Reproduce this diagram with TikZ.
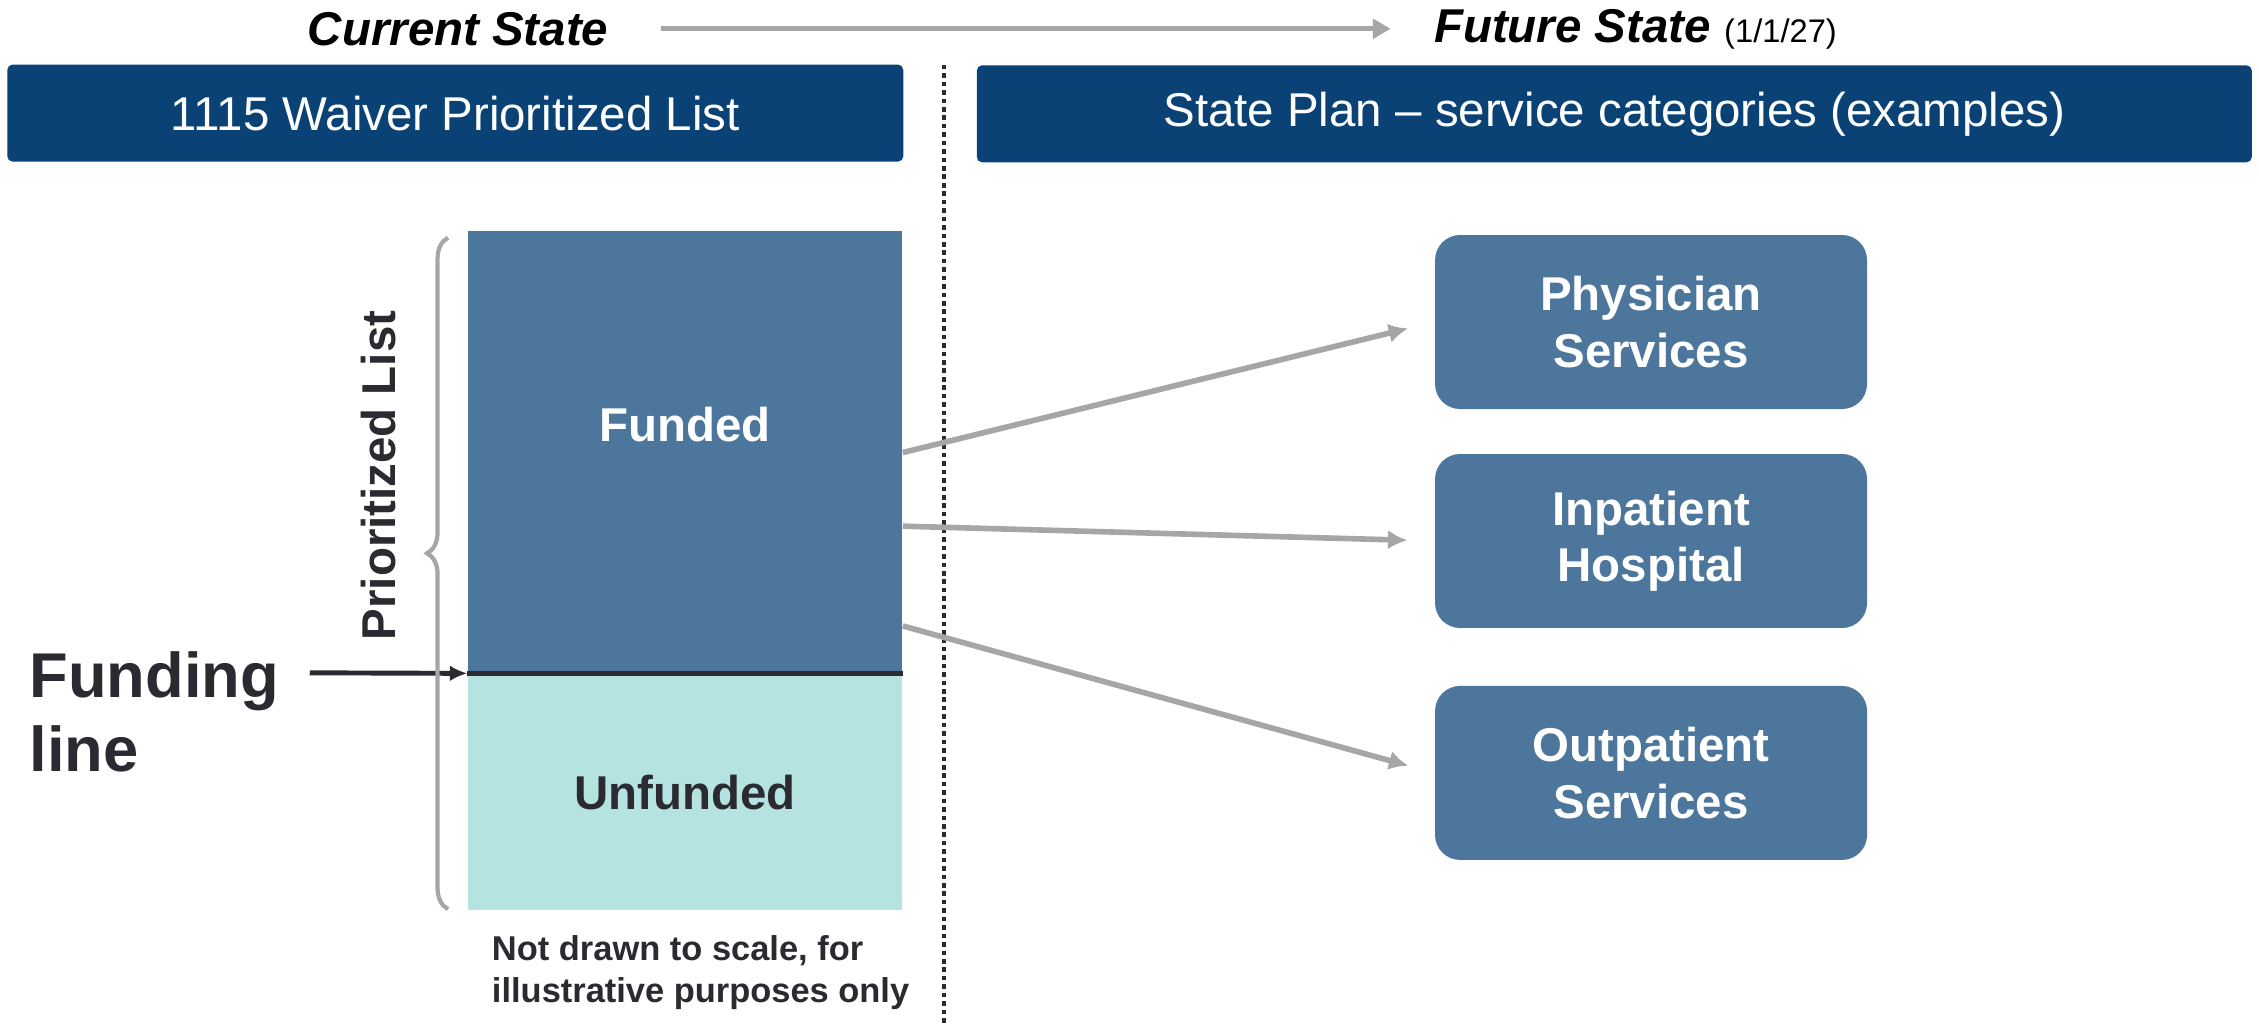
\documentclass[tikz,border=0pt]{standalone}
\usepackage{fontspec}
\setmainfont{Liberation Sans}
\usepackage{xcolor}
\usepackage{tikz}
\usetikzlibrary{positioning,arrows.meta,calc,decorations.pathreplacing}

\definecolor{navy}{HTML}{0B4275}
\definecolor{steel}{HTML}{4C769B}
\definecolor{mint}{HTML}{B5E3E1}
\definecolor{arrowgray}{HTML}{A6A6A6}
\definecolor{ink}{HTML}{2A2A30}

\begin{document}
\begin{tikzpicture}[x=0.14407mm, y=-0.14407mm,
  head/.style={fill=navy, text=white, rounded corners=1.5pt, minimum height=0.97cm,
    inner sep=0pt, font=\fontsize{13.5}{16}\selectfont},
  title/.style={inner sep=0pt, font=\fontsize{13.5}{16}\selectfont\bfseries\itshape},
  bar/.style={minimum width=4.34cm, inner sep=0pt, font=\fontsize{13.5}{16}\selectfont\bfseries},
  service/.style={fill=steel, text=white, rounded corners=0.25cm, minimum width=4.32cm,
    minimum height=1.74cm, align=center, font=\fontsize{13.5}{16}\selectfont\bfseries},
  flow/.style={arrowgray, line width=1.6pt, -{Latex[length=5.5pt,width=5.5pt]}}]
\path[fill=white] (0,0) rectangle (1568,711);
% current -> future
\node[title] (cur) at (318,20) {Current State};
\node[title, anchor=west] (fut) at (995,20) {Future State {\normalfont\fontsize{9.3}{11}\selectfont (1/1/27)}};
\draw[arrowgray, line width=1.5pt, -{Triangle[length=5pt,width=5.5pt]}, shorten <=0.52cm, shorten >=0.43cm]
  (cur.east) -- (cur.east -| fut.west);
% banners
\node[head, minimum width=8.96cm] (lhead) at (316,78.5) {1115 Waiver Prioritized List};
\node[head, minimum width=12.75cm] (rhead) at (1120.5,79) {State Plan – service categories (examples)};
% divider
\draw[ink, line width=1.1pt, dash pattern=on 1.3pt off 1.1pt] (655,45) -- (655,711);
% the list, split at the funding line
\node[bar, fill=steel, minimum height=4.42cm,
  label={[text=white, font=\fontsize{13.5}{16}\selectfont\bfseries, yshift=0.27cm]center:Funded}] (funded) at (475.5,313.5) {};
\node[bar, fill=mint, text=ink, minimum height=2.36cm, below=0pt of funded] (unfunded) {Unfunded};
\draw[ink, line width=1.4pt] (funded.south west) -- (funded.south east);
\node[font=\fontsize{18}{20.9}\selectfont\bfseries, text=ink, align=left, anchor=north west, inner sep=0pt]
  (fundlbl) at (20,452) {Funding\\line};
\coordinate (fundtail) at (215,467);
\draw[ink, line width=1.4pt, -{Latex[length=5pt,width=4.5pt]}] (fundtail) -- (funded.south west);
% brace + its label
\draw[arrowgray, line width=1.2pt, decorate, decoration={brace, amplitude=0.21cm, aspect=0.53}]
  (311,631) -- (311,165);
\node[rotate=90, font=\fontsize{13.5}{16}\selectfont\bfseries, text=ink] (prio) at (263,330) {Prioritized List};
\node[anchor=north west, inner sep=0pt, align=left, text=ink, font=\fontsize{9.8}{12}\selectfont\bfseries]
  (note) at (341,649) {Not drawn to scale, for\\illustrative purposes only};
% service categories
\node[service] (phys) at (1146,223.5) {Physician\\Services};
\node[service] (inpat) at (1146,375.5) {Inpatient\\Hospital};
\node[service] (outpat) at (1146,536.5) {Outpatient\\Services};
\foreach \f/\nm in {0.502/phys, 0.668/inpat, 0.893/outpat}
  \draw[flow, shorten >=0.27cm] ($(funded.north east)!\f!(funded.south east)$) -- (\nm.west);
\end{tikzpicture}
\end{document}
